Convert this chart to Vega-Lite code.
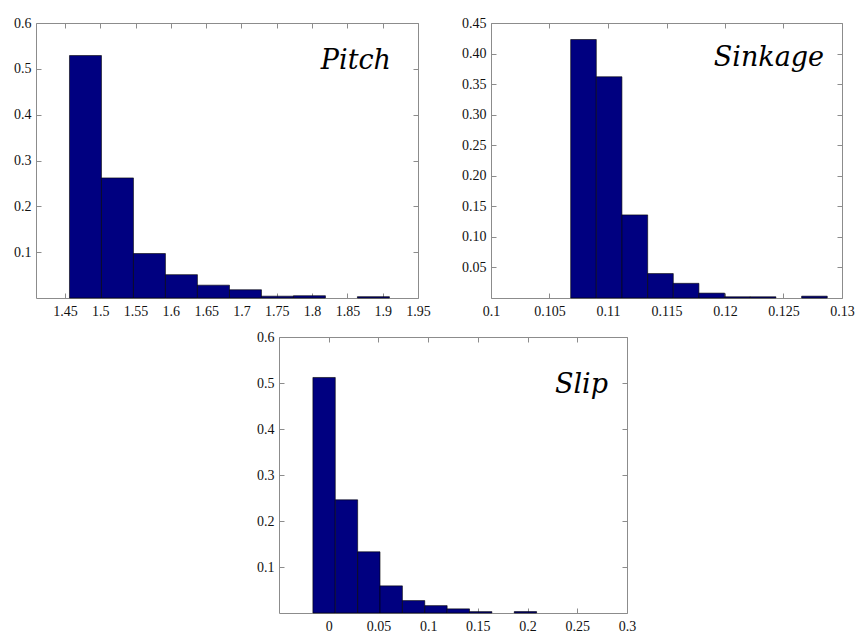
{
  "$schema": "https://vega.github.io/schema/vega-lite/v6.json",
  "background": "white",
  "padding": {"left": 13, "top": 15, "right": 5, "bottom": 5},
  "datasets": {
    "pitch": [
      {"bin_start": 1.4564, "bin_end": 1.5017, "freq": 0.529},
      {"bin_start": 1.5017, "bin_end": 1.547, "freq": 0.262},
      {"bin_start": 1.547, "bin_end": 1.5923, "freq": 0.097},
      {"bin_start": 1.5923, "bin_end": 1.6376, "freq": 0.051},
      {"bin_start": 1.6376, "bin_end": 1.683, "freq": 0.028},
      {"bin_start": 1.683, "bin_end": 1.7283, "freq": 0.018},
      {"bin_start": 1.7283, "bin_end": 1.7736, "freq": 0.004},
      {"bin_start": 1.7736, "bin_end": 1.8189, "freq": 0.005},
      {"bin_start": 1.8642, "bin_end": 1.9095, "freq": 0.003}
    ],
    "sinkage": [
      {"bin_start": 0.10681, "bin_end": 0.109, "freq": 0.423},
      {"bin_start": 0.109, "bin_end": 0.11119, "freq": 0.362},
      {"bin_start": 0.11119, "bin_end": 0.11339, "freq": 0.136},
      {"bin_start": 0.11339, "bin_end": 0.11558, "freq": 0.04},
      {"bin_start": 0.11558, "bin_end": 0.11777, "freq": 0.024},
      {"bin_start": 0.11777, "bin_end": 0.11997, "freq": 0.008},
      {"bin_start": 0.11997, "bin_end": 0.12216, "freq": 0.002},
      {"bin_start": 0.12216, "bin_end": 0.12435, "freq": 0.002},
      {"bin_start": 0.12655, "bin_end": 0.12874, "freq": 0.003}
    ],
    "slip": [
      {"bin_start": -0.0159, "bin_end": 0.0066, "freq": 0.512},
      {"bin_start": 0.0066, "bin_end": 0.0291, "freq": 0.246},
      {"bin_start": 0.0291, "bin_end": 0.0516, "freq": 0.133},
      {"bin_start": 0.0516, "bin_end": 0.0741, "freq": 0.059},
      {"bin_start": 0.0741, "bin_end": 0.0966, "freq": 0.027},
      {"bin_start": 0.0966, "bin_end": 0.1191, "freq": 0.016},
      {"bin_start": 0.1191, "bin_end": 0.1416, "freq": 0.009},
      {"bin_start": 0.1416, "bin_end": 0.1641, "freq": 0.003},
      {"bin_start": 0.1866, "bin_end": 0.2091, "freq": 0.003}
    ]
  },
  "spacing": 10,
  "vconcat": [
    {
      "spacing": 30,
      "hconcat": [
        {
          "width": 382,
          "height": 275,
          "data": {"name": "pitch"},
          "title": {"text": "Pitch", "anchor": "end", "frame": "group", "orient": "top", "offset": -80, "dx": -27, "baseline": "alphabetic", "font": "DejaVu Serif", "fontStyle": "italic", "fontWeight": "normal", "fontSize": 27, "color": "#000000"},
          "layer": [
            {
              "mark": {"type": "bar", "fill": "#000080", "stroke": "#000000", "strokeWidth": 0.6},
              "encoding": {
                "x": {"field": "bin_start", "type": "quantitative", "scale": {"domain": [1.409, 1.95], "nice": false, "zero": false}, "axis": {"orient": "bottom", "title": null, "values": [1.45, 1.5, 1.55, 1.6, 1.65, 1.7, 1.75, 1.8, 1.85, 1.9, 1.95], "format": "~g", "labelPadding": 11}},
                "x2": {"field": "bin_end"},
                "y": {"field": "freq", "type": "quantitative", "scale": {"domain": [0, 0.6], "nice": false}, "axis": {"orient": "left", "title": null, "values": [0.1, 0.2, 0.3, 0.4, 0.5, 0.6], "format": ".1f", "labelPadding": 10}},
                "y2": {"datum": 0}
              }
            },
            {
              "mark": {"type": "bar", "opacity": 0},
              "encoding": {
                "x": {"field": "bin_start", "type": "quantitative", "axis": {"orient": "top", "title": null, "labels": false, "values": [1.45, 1.5, 1.55, 1.6, 1.65, 1.7, 1.75, 1.8, 1.85, 1.9, 1.95]}},
                "x2": {"field": "bin_end"},
                "y": {"field": "freq", "type": "quantitative", "axis": {"orient": "right", "title": null, "labels": false, "values": [0.1, 0.2, 0.3, 0.4, 0.5, 0.6]}},
                "y2": {"datum": 0}
              }
            }
          ],
          "resolve": {"scale": {"x": "shared", "y": "shared"}, "axis": {"x": "independent", "y": "independent"}}
        },
        {
          "width": 351,
          "height": 275,
          "data": {"name": "sinkage"},
          "title": {"text": "Sinkage", "anchor": "end", "frame": "group", "orient": "top", "offset": -77, "dx": -18, "baseline": "alphabetic", "font": "DejaVu Serif", "fontStyle": "italic", "fontWeight": "normal", "fontSize": 27, "color": "#000000"},
          "layer": [
            {
              "mark": {"type": "bar", "fill": "#000080", "stroke": "#000000", "strokeWidth": 0.6},
              "encoding": {
                "x": {"field": "bin_start", "type": "quantitative", "scale": {"domain": [0.1, 0.13], "nice": false, "zero": false}, "axis": {"orient": "bottom", "title": null, "values": [0.1, 0.105, 0.11, 0.115, 0.12, 0.125, 0.13], "format": "~g", "labelPadding": 11}},
                "x2": {"field": "bin_end"},
                "y": {"field": "freq", "type": "quantitative", "scale": {"domain": [0, 0.45], "nice": false}, "axis": {"orient": "left", "title": null, "values": [0.05, 0.1, 0.15, 0.2, 0.25, 0.3, 0.35, 0.4, 0.45], "format": ".2f", "labelPadding": 10}},
                "y2": {"datum": 0}
              }
            },
            {
              "mark": {"type": "bar", "opacity": 0},
              "encoding": {
                "x": {"field": "bin_start", "type": "quantitative", "axis": {"orient": "top", "title": null, "labels": false, "values": [0.1, 0.105, 0.11, 0.115, 0.12, 0.125, 0.13]}},
                "x2": {"field": "bin_end"},
                "y": {"field": "freq", "type": "quantitative", "axis": {"orient": "right", "title": null, "labels": false, "values": [0.05, 0.1, 0.15, 0.2, 0.25, 0.3, 0.35, 0.4, 0.45]}},
                "y2": {"datum": 0}
              }
            }
          ],
          "resolve": {"scale": {"x": "shared", "y": "shared"}, "axis": {"x": "independent", "y": "independent"}}
        }
      ]
    },
    {
      "spacing": 0,
      "hconcat": [
        {
          "width": 220,
          "height": 10,
          "data": {"values": []},
          "mark": "point",
          "view": {"stroke": null}
        },
        {
          "width": 348,
          "height": 276,
          "data": {"name": "slip"},
          "title": {"text": "Slip", "anchor": "end", "frame": "group", "orient": "top", "offset": -90, "dx": -19, "baseline": "alphabetic", "font": "DejaVu Serif", "fontStyle": "italic", "fontWeight": "normal", "fontSize": 27, "color": "#000000"},
          "layer": [
            {
              "mark": {"type": "bar", "fill": "#000080", "stroke": "#000000", "strokeWidth": 0.6},
              "encoding": {
                "x": {"field": "bin_start", "type": "quantitative", "scale": {"domain": [-0.05, 0.3], "nice": false, "zero": false}, "axis": {"orient": "bottom", "title": null, "values": [0, 0.05, 0.1, 0.15, 0.2, 0.25, 0.3], "format": "~g", "labelPadding": 11}},
                "x2": {"field": "bin_end"},
                "y": {"field": "freq", "type": "quantitative", "scale": {"domain": [0, 0.6], "nice": false}, "axis": {"orient": "left", "title": null, "values": [0.1, 0.2, 0.3, 0.4, 0.5, 0.6], "format": ".1f", "labelPadding": 10}},
                "y2": {"datum": 0}
              }
            },
            {
              "mark": {"type": "bar", "opacity": 0},
              "encoding": {
                "x": {"field": "bin_start", "type": "quantitative", "axis": {"orient": "top", "title": null, "labels": false, "values": [0, 0.05, 0.1, 0.15, 0.2, 0.25, 0.3]}},
                "x2": {"field": "bin_end"},
                "y": {"field": "freq", "type": "quantitative", "axis": {"orient": "right", "title": null, "labels": false, "values": [0.1, 0.2, 0.3, 0.4, 0.5, 0.6]}},
                "y2": {"datum": 0}
              }
            }
          ],
          "resolve": {"scale": {"x": "shared", "y": "shared"}, "axis": {"x": "independent", "y": "independent"}}
        }
      ]
    }
  ],
  "config": {
    "view": {"stroke": "#8c8c8c", "strokeWidth": 1},
    "axis": {
      "domain": false,
      "grid": false,
      "ticks": true,
      "tickSize": -5,
      "tickColor": "#8c8c8c",
      "tickWidth": 1,
      "labelFont": "Liberation Serif",
      "labelFontSize": 14,
      "labelColor": "#111111",
      "labelFlush": false,
      "labelOverlap": false
    }
  }
}
